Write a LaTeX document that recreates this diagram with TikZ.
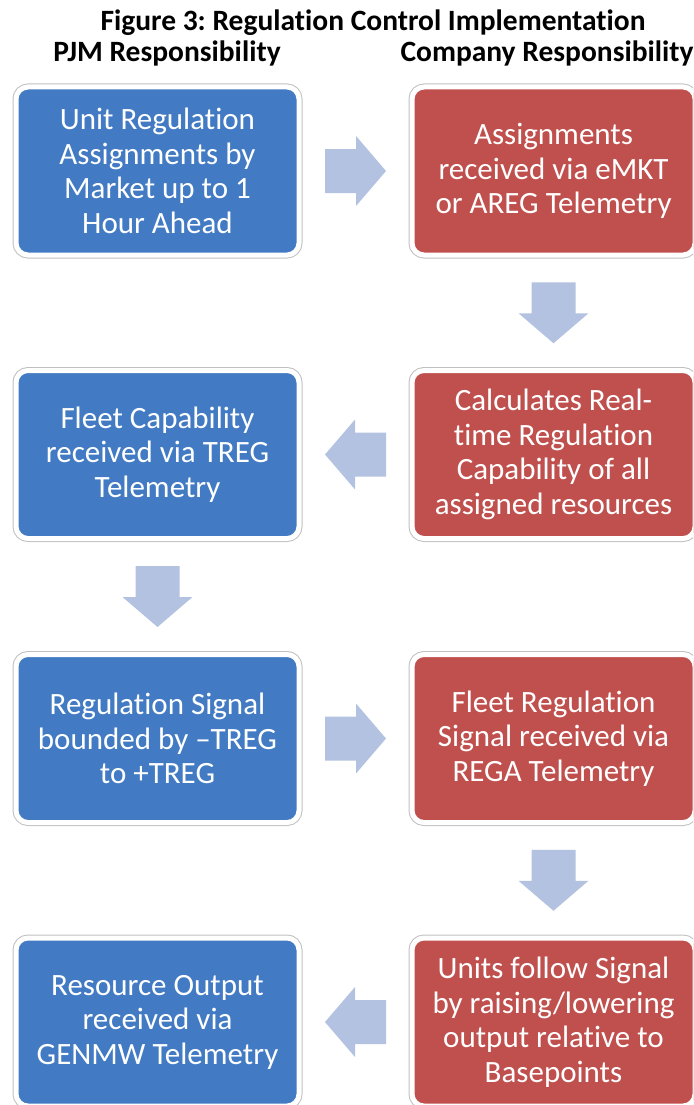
\documentclass[tikz,border=0pt]{standalone}
\usepackage{fontspec}
\setmainfont{Carlito}[Ligatures=NoCommon]
\frenchspacing
\usepackage{tikz}
\usetikzlibrary{calc,positioning}
\definecolor{pjmblue}{RGB}{66,123,195}
\definecolor{compred}{RGB}{192,80,77}
\definecolor{arrowfill}{RGB}{178,194,224}
\definecolor{rimgray}{RGB}{192,192,192}
\tikzset{
	stepbox/.style={rectangle, rounded corners=12pt, minimum width=283pt, minimum height=168pt,
		align=center, text=white, font=\fontsize{31}{34.5}\selectfont,
		draw=white, line width=5pt, preaction={draw=rimgray, line width=7pt}},
	pjmbox/.style={stepbox, fill=pjmblue},
	compbox/.style={stepbox, fill=compred},
	heading/.style={font=\bfseries\fontsize{29.5}{33}\selectfont, anchor=base, inner sep=0pt},
	blockarrow/.pic={\fill[arrowfill] (-30.5,-22) -- (0.5,-22) -- (0.5,-35) -- (30.5,0) -- (0.5,35) -- (0.5,22) -- (-30.5,22) -- cycle;}
}

\begin{document}
\begin{tikzpicture}[x=1pt, y=-1pt]
	
	% Definitions.
	\def\ColPJM{157.5}
	\def\ColCompany{553.5}
	\def\RowA{171}
	\def\RowB{454.5}
	\def\RowC{738.5}
	\def\RowD{1022}
	
	\useasboundingbox (0,0) rectangle (693,1105);
	\clip (0,0) rectangle (693,1105);
	
	% ---------- Title and Headers ---------
	
	\node[heading] (title) at (373,31) {Figure 3: Regulation Control Implementation};
	\node[heading] (pjmHead) at (167,62) {PJM Responsibility};
	\node[heading] (companyHead) at (547,62) {Company Responsibility};
	
	% ---------------- Boxes ----------------
	
	\node[pjmbox] (unitAssign) at (\ColPJM,\RowA) {Unit Regulation\\Assignments by\\Market up to 1\\Hour Ahead};
	\node[compbox] (assignRecv) at (\ColCompany,\RowA) {Assignments\\received via eMKT\\or AREG Telemetry};
	
	\node[pjmbox] (fleetCap) at (\ColPJM,\RowB) {Fleet Capability\\received via TREG\\Telemetry};
	\node[compbox] (calcCap) at (\ColCompany,\RowB) {Calculates Real-\\time Regulation\\Capability of all\\assigned resources};
	
	\node[pjmbox] (regSignal) at (\ColPJM,\RowC) {Regulation Signal\\bounded by --TREG\\to +TREG};
	\node[compbox] (fleetSignal) at (\ColCompany,\RowC) {Fleet Regulation\\Signal received via\\REGA Telemetry};
	
	\node[pjmbox] (resOutput) at (\ColPJM,\RowD) {Resource Output\\received via\\GENMW Telemetry};
	\node[compbox] (unitsFollow) at (\ColCompany,\RowD) {Units follow Signal\\by raising/lowering\\output relative to\\Basepoints};
	
	% ---------------- Arrows ----------------
	
	\pic at ($(unitAssign.east)!0.5!(assignRecv.west)$) {blockarrow};
	\pic[rotate=-90] at ($(assignRecv.south)!0.5!(calcCap.north)$) {blockarrow};
	\pic[rotate=180] at ($(calcCap.west)!0.5!(fleetCap.east)$) {blockarrow};
	\pic[rotate=-90] at ($(fleetCap.south)!0.5!(regSignal.north)$) {blockarrow};
	\pic at ($(regSignal.east)!0.5!(fleetSignal.west)$) {blockarrow};
	\pic[rotate=-90] at ($(fleetSignal.south)!0.5!(unitsFollow.north)$) {blockarrow};
	\pic[rotate=180] at ($(unitsFollow.west)!0.5!(resOutput.east)$) {blockarrow};
	
\end{tikzpicture}
\end{document}
